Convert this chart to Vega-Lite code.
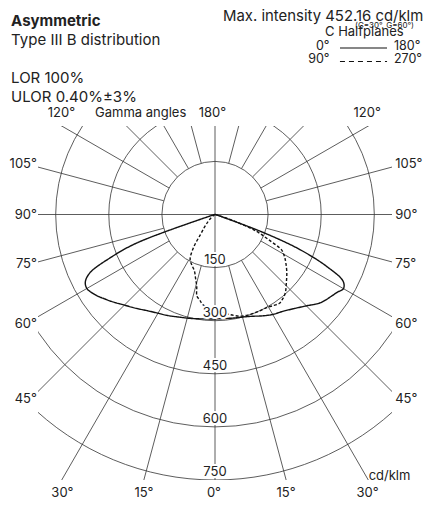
{
  "$schema": "https://vega.github.io/schema/vega-lite/v6.json",
  "width": 354,
  "height": 354,
  "autosize": {"type": "none"},
  "padding": {"left": 38, "top": 126, "right": 32, "bottom": 25},
  "background": "white",
  "config": {"view": {"stroke": null}},
  "datasets": {
    "rings": [{"v": 150}, {"v": 300}, {"v": 450}, {"v": 600}, {"v": 750}],
    "spokes": [
      {"a": 0, "r0": 0}, {"a": 15, "r0": 150}, {"a": 30, "r0": 150}, {"a": 45, "r0": 150},
      {"a": 60, "r0": 150}, {"a": 75, "r0": 150}, {"a": 90, "r0": 0}, {"a": 105, "r0": 150},
      {"a": 120, "r0": 150}, {"a": 135, "r0": 150}, {"a": 150, "r0": 150}, {"a": 165, "r0": 150},
      {"a": 180, "r0": 0}, {"a": 195, "r0": 150}, {"a": 210, "r0": 150}, {"a": 225, "r0": 150},
      {"a": 240, "r0": 150}, {"a": 255, "r0": 150}, {"a": 270, "r0": 0}, {"a": 285, "r0": 150},
      {"a": 300, "r0": 150}, {"a": 315, "r0": 150}, {"a": 330, "r0": 150}, {"a": 345, "r0": 150}
    ],
    "curves": [
      {"pair": "0-180", "c": 0, "g": 90, "I": 0},
      {"pair": "0-180", "c": 0, "g": 80, "I": 2},
      {"pair": "0-180", "c": 0, "g": 75, "I": 6},
      {"pair": "0-180", "c": 0, "g": 70, "I": 235},
      {"pair": "0-180", "c": 0, "g": 67.5, "I": 322},
      {"pair": "0-180", "c": 0, "g": 65, "I": 390},
      {"pair": "0-180", "c": 0, "g": 62.5, "I": 413},
      {"pair": "0-180", "c": 0, "g": 60, "I": 418},
      {"pair": "0-180", "c": 0, "g": 57.5, "I": 412},
      {"pair": "0-180", "c": 0, "g": 55, "I": 403},
      {"pair": "0-180", "c": 0, "g": 52.5, "I": 392},
      {"pair": "0-180", "c": 0, "g": 50, "I": 382},
      {"pair": "0-180", "c": 0, "g": 45, "I": 362},
      {"pair": "0-180", "c": 0, "g": 40, "I": 346},
      {"pair": "0-180", "c": 0, "g": 35, "I": 332},
      {"pair": "0-180", "c": 0, "g": 30, "I": 322},
      {"pair": "0-180", "c": 0, "g": 25, "I": 315},
      {"pair": "0-180", "c": 0, "g": 20, "I": 308},
      {"pair": "0-180", "c": 0, "g": 15, "I": 303},
      {"pair": "0-180", "c": 0, "g": 10, "I": 299},
      {"pair": "0-180", "c": 0, "g": 5, "I": 296},
      {"pair": "0-180", "c": 0, "g": 0, "I": 295},
      {"pair": "0-180", "c": 180, "g": 5, "I": 295},
      {"pair": "0-180", "c": 180, "g": 10, "I": 297},
      {"pair": "0-180", "c": 180, "g": 15, "I": 300},
      {"pair": "0-180", "c": 180, "g": 20, "I": 306},
      {"pair": "0-180", "c": 180, "g": 25, "I": 316},
      {"pair": "0-180", "c": 180, "g": 30, "I": 326},
      {"pair": "0-180", "c": 180, "g": 35, "I": 334},
      {"pair": "0-180", "c": 180, "g": 40, "I": 347},
      {"pair": "0-180", "c": 180, "g": 45, "I": 365},
      {"pair": "0-180", "c": 180, "g": 50, "I": 388},
      {"pair": "0-180", "c": 180, "g": 55, "I": 402},
      {"pair": "0-180", "c": 180, "g": 57.5, "I": 409},
      {"pair": "0-180", "c": 180, "g": 60, "I": 419},
      {"pair": "0-180", "c": 180, "g": 62.5, "I": 408},
      {"pair": "0-180", "c": 180, "g": 65, "I": 350},
      {"pair": "0-180", "c": 180, "g": 67.5, "I": 262},
      {"pair": "0-180", "c": 180, "g": 69.5, "I": 150},
      {"pair": "0-180", "c": 180, "g": 75, "I": 6},
      {"pair": "0-180", "c": 180, "g": 80, "I": 2},
      {"pair": "0-180", "c": 180, "g": 90, "I": 0},
      {"pair": "90-270", "c": 90, "g": 90, "I": 0},
      {"pair": "90-270", "c": 90, "g": 60, "I": 4},
      {"pair": "90-270", "c": 90, "g": 50, "I": 15},
      {"pair": "90-270", "c": 90, "g": 45, "I": 27},
      {"pair": "90-270", "c": 90, "g": 40, "I": 45},
      {"pair": "90-270", "c": 90, "g": 36, "I": 70},
      {"pair": "90-270", "c": 90, "g": 33, "I": 112},
      {"pair": "90-270", "c": 90, "g": 29, "I": 145},
      {"pair": "90-270", "c": 90, "g": 25, "I": 156},
      {"pair": "90-270", "c": 90, "g": 20, "I": 170},
      {"pair": "90-270", "c": 90, "g": 17, "I": 188},
      {"pair": "90-270", "c": 90, "g": 14.3, "I": 209},
      {"pair": "90-270", "c": 90, "g": 12.5, "I": 236},
      {"pair": "90-270", "c": 90, "g": 10, "I": 246},
      {"pair": "90-270", "c": 90, "g": 8, "I": 256},
      {"pair": "90-270", "c": 90, "g": 5, "I": 262},
      {"pair": "90-270", "c": 90, "g": 0, "I": 268},
      {"pair": "90-270", "c": 270, "g": 5, "I": 278},
      {"pair": "90-270", "c": 270, "g": 8.5, "I": 286},
      {"pair": "90-270", "c": 270, "g": 14, "I": 296},
      {"pair": "90-270", "c": 270, "g": 19, "I": 299},
      {"pair": "90-270", "c": 270, "g": 24, "I": 300},
      {"pair": "90-270", "c": 270, "g": 29, "I": 301},
      {"pair": "90-270", "c": 270, "g": 33, "I": 306},
      {"pair": "90-270", "c": 270, "g": 36, "I": 310},
      {"pair": "90-270", "c": 270, "g": 39, "I": 305},
      {"pair": "90-270", "c": 270, "g": 42, "I": 297},
      {"pair": "90-270", "c": 270, "g": 46, "I": 280},
      {"pair": "90-270", "c": 270, "g": 51, "I": 261},
      {"pair": "90-270", "c": 270, "g": 55, "I": 245},
      {"pair": "90-270", "c": 270, "g": 58, "I": 233},
      {"pair": "90-270", "c": 270, "g": 60, "I": 224},
      {"pair": "90-270", "c": 270, "g": 62, "I": 213},
      {"pair": "90-270", "c": 270, "g": 65, "I": 165},
      {"pair": "90-270", "c": 270, "g": 68, "I": 125},
      {"pair": "90-270", "c": 270, "g": 71, "I": 60},
      {"pair": "90-270", "c": 270, "g": 75, "I": 8},
      {"pair": "90-270", "c": 270, "g": 80, "I": 2},
      {"pair": "90-270", "c": 270, "g": 90, "I": 0}
    ],
    "leftLabels": [
      {"t": "105°", "x": -503, "y": 131.4},
      {"t": "90°", "x": -503, "y": -12.7},
      {"t": "75°", "x": -503, "y": -152},
      {"t": "60°", "x": -503, "y": -321.5},
      {"t": "45°", "x": -503, "y": -533.3}
    ],
    "rightLabels": [
      {"t": "105°", "x": 509, "y": 131.4},
      {"t": "90°", "x": 509, "y": -12.7},
      {"t": "75°", "x": 509, "y": -152},
      {"t": "60°", "x": 509, "y": -321.5},
      {"t": "45°", "x": 509, "y": -533.3},
      {"t": "Gamma angles", "x": -339, "y": 275},
      {"t": "cd/klm", "x": 434, "y": -750},
      {"t": "C Halfplanes", "x": 310.7, "y": 503}
    ],
    "legendLeft": [
      {"t": "0°", "x": 323.4, "y": 464.7},
      {"t": "90°", "x": 323.4, "y": 427.1}
    ],
    "legendRight": [
      {"t": "180°", "x": 505.6, "y": 464.7},
      {"t": "270°", "x": 505.6, "y": 427.1}
    ],
    "centerLabels": [
      {"t": "120°", "x": -433.6, "y": 275},
      {"t": "180°", "x": -7, "y": 275},
      {"t": "120°", "x": 430, "y": 275},
      {"t": "30°", "x": -431, "y": -797},
      {"t": "15°", "x": -200.6, "y": -797},
      {"t": "0°", "x": -3, "y": -797},
      {"t": "15°", "x": 200.6, "y": -797},
      {"t": "30°", "x": 430.8, "y": -797}
    ],
    "header": [
      {"t": "Type III B distribution", "x": -576, "y": 478.8},
      {"t": "LOR 100%", "x": -576, "y": 370.6},
      {"t": "ULOR 0.40%±3%", "x": -576, "y": 318.6}
    ]
  },
  "layer": [
    {
      "data": {"name": "rings"},
      "mark": {"type": "arc", "filled": false, "stroke": "#333", "strokeWidth": 0.8, "clip": true, "theta": 0, "theta2": 6.2832},
      "encoding": {
        "x": {"datum": 0, "type": "quantitative", "scale": {"domain": [-500, 500], "nice": false, "zero": false}, "axis": null},
        "y": {"datum": 0, "type": "quantitative", "scale": {"domain": [-750, 250], "nice": false, "zero": false}, "axis": null},
        "radius": {"field": "v", "type": "quantitative", "stack": null, "scale": {"type": "linear", "zero": true, "domain": [0, 1000], "range": [0, 354]}}
      }
    },
    {
      "data": {"name": "spokes"},
      "transform": [
        {"calculate": "datum.r0 * sin(datum.a * PI / 180)", "as": "x1"},
        {"calculate": "-datum.r0 * cos(datum.a * PI / 180)", "as": "y1"},
        {"calculate": "1500 * sin(datum.a * PI / 180)", "as": "x2"},
        {"calculate": "-1500 * cos(datum.a * PI / 180)", "as": "y2"}
      ],
      "mark": {"type": "rule", "stroke": "#333", "strokeWidth": 0.8, "clip": true},
      "encoding": {
        "x": {"field": "x1", "type": "quantitative", "scale": {"domain": [-500, 500], "nice": false, "zero": false}, "axis": null},
        "y": {"field": "y1", "type": "quantitative", "scale": {"domain": [-750, 250], "nice": false, "zero": false}, "axis": null},
        "x2": {"field": "x2"},
        "y2": {"field": "y2"}
      }
    },
    {
      "data": {"name": "curves"},
      "transform": [
        {"calculate": "(datum.c == 0 || datum.c == 90 ? -1 : 1) * datum.I * sin(datum.g * PI / 180)", "as": "cx"},
        {"calculate": "-datum.I * cos(datum.g * PI / 180)", "as": "cy"}
      ],
      "mark": {"type": "line", "strokeWidth": 1.4, "color": "#111", "interpolate": "catmull-rom", "strokeJoin": "round"},
      "encoding": {
        "x": {"field": "cx", "type": "quantitative", "scale": {"domain": [-500, 500], "nice": false, "zero": false}, "axis": null},
        "y": {"field": "cy", "type": "quantitative", "scale": {"domain": [-750, 250], "nice": false, "zero": false}, "axis": null},
        "detail": {"field": "pair"},
        "strokeDash": {"field": "pair", "type": "nominal", "scale": {"domain": ["0-180", "90-270"], "range": [[1, 0], [3, 2]]}, "legend": null},
        "order": {"value": null}
      }
    },
    {
      "data": {"values": [{"x": 353, "x2": 486, "y": 470.3}]},
      "mark": {"type": "rule", "stroke": "#111", "strokeWidth": 1.2},
      "encoding": {
        "x": {"field": "x", "type": "quantitative", "axis": null},
        "x2": {"field": "x2"},
        "y": {"field": "y", "type": "quantitative", "axis": null}
      }
    },
    {
      "data": {"values": [{"x": 353, "x2": 486, "y": 432.2}]},
      "mark": {"type": "rule", "stroke": "#111", "strokeWidth": 1.2, "strokeDash": [5, 4]},
      "encoding": {
        "x": {"field": "x", "type": "quantitative", "axis": null},
        "x2": {"field": "x2"},
        "y": {"field": "y", "type": "quantitative", "axis": null}
      }
    },
    {
      "data": {"name": "rings"},
      "transform": [{"calculate": "10 - datum.v", "as": "ly"}],
      "mark": {"type": "text", "font": "Inter", "fontSize": 13, "align": "center", "baseline": "alphabetic", "fill": "white", "stroke": "white", "strokeWidth": 4, "strokeJoin": "round"},
      "encoding": {
        "x": {"datum": 0, "type": "quantitative", "axis": null},
        "y": {"field": "ly", "type": "quantitative", "axis": null},
        "text": {"field": "v", "type": "quantitative", "format": "d"}
      }
    },
    {
      "data": {"name": "rings"},
      "transform": [{"calculate": "10 - datum.v", "as": "ly"}],
      "mark": {"type": "text", "font": "Inter", "fontSize": 13, "align": "center", "baseline": "alphabetic", "fill": "#222"},
      "encoding": {
        "x": {"datum": 0, "type": "quantitative", "axis": null},
        "y": {"field": "ly", "type": "quantitative", "axis": null},
        "text": {"field": "v", "type": "quantitative", "format": "d"}
      }
    },
    {
      "data": {"name": "leftLabels"},
      "mark": {"type": "text", "font": "Inter", "fontSize": 13, "align": "right", "baseline": "alphabetic", "fill": "#222"},
      "encoding": {
        "x": {"field": "x", "type": "quantitative", "axis": null},
        "y": {"field": "y", "type": "quantitative", "axis": null},
        "text": {"field": "t"}
      }
    },
    {
      "data": {"name": "rightLabels"},
      "mark": {"type": "text", "font": "Inter", "fontSize": 13, "align": "left", "baseline": "alphabetic", "fill": "#222"},
      "encoding": {
        "x": {"field": "x", "type": "quantitative", "axis": null},
        "y": {"field": "y", "type": "quantitative", "axis": null},
        "text": {"field": "t"}
      }
    },
    {
      "data": {"name": "legendLeft"},
      "mark": {"type": "text", "font": "Inter", "fontSize": 12.5, "align": "right", "baseline": "alphabetic", "fill": "#222"},
      "encoding": {
        "x": {"field": "x", "type": "quantitative", "axis": null},
        "y": {"field": "y", "type": "quantitative", "axis": null},
        "text": {"field": "t"}
      }
    },
    {
      "data": {"name": "legendRight"},
      "mark": {"type": "text", "font": "Inter", "fontSize": 12.5, "align": "left", "baseline": "alphabetic", "fill": "#222"},
      "encoding": {
        "x": {"field": "x", "type": "quantitative", "axis": null},
        "y": {"field": "y", "type": "quantitative", "axis": null},
        "text": {"field": "t"}
      }
    },
    {
      "data": {"name": "centerLabels"},
      "mark": {"type": "text", "font": "Inter", "fontSize": 13, "align": "center", "baseline": "alphabetic", "fill": "#222"},
      "encoding": {
        "x": {"field": "x", "type": "quantitative", "axis": null},
        "y": {"field": "y", "type": "quantitative", "axis": null},
        "text": {"field": "t"}
      }
    },
    {
      "data": {"name": "header"},
      "mark": {"type": "text", "font": "Inter", "fontSize": 15, "align": "left", "baseline": "alphabetic", "fill": "#222"},
      "encoding": {
        "x": {"field": "x", "type": "quantitative", "axis": null},
        "y": {"field": "y", "type": "quantitative", "axis": null},
        "text": {"field": "t"}
      }
    },
    {
      "data": {"values": [{"t": "Asymmetric", "x": -576, "y": 532.5}]},
      "mark": {"type": "text", "font": "Inter", "fontSize": 15, "fontWeight": "bold", "align": "left", "baseline": "alphabetic", "fill": "#222"},
      "encoding": {
        "x": {"field": "x", "type": "quantitative", "axis": null},
        "y": {"field": "y", "type": "quantitative", "axis": null},
        "text": {"field": "t"}
      }
    },
    {
      "data": {"values": [{"t": "Max. intensity 452.16 cd/klm", "x": 22.6, "y": 547.5}]},
      "mark": {"type": "text", "font": "Inter", "fontSize": 14.9, "align": "left", "baseline": "alphabetic", "fill": "#222"},
      "encoding": {
        "x": {"field": "x", "type": "quantitative", "axis": null},
        "y": {"field": "y", "type": "quantitative", "axis": null},
        "text": {"field": "t"}
      }
    },
    {
      "data": {"values": [{"t": "(C=30°, G=60°)", "x": 395.5, "y": 528.2}]},
      "mark": {"type": "text", "font": "Inter", "fontSize": 8, "align": "left", "baseline": "alphabetic", "fill": "#222"},
      "encoding": {
        "x": {"field": "x", "type": "quantitative", "axis": null},
        "y": {"field": "y", "type": "quantitative", "axis": null},
        "text": {"field": "t"}
      }
    }
  ]
}
